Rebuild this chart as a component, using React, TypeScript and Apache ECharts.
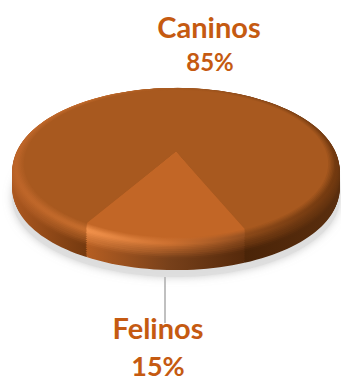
import React, { useEffect, useRef } from "react";
import * as echarts from "echarts";

const categories = ["Caninos", "Felinos"];
const shares = [85, 15];

const TEXT_COLOR = "#C55A11";
const FONT = "Lato, Carlito, sans-serif";

// Disc projection: a point on the unit disc is mapped with a simple perspective.
const CX = 176;
const CY = 152;
const AX = 161.6;
const AY = 77.2;
const K = 0.17;
const project = (u: number, v: number, z: number): number[] => {
  const w = 1 - K * v;
  return [CX + (AX * u) / w, CY + (AY * v) / w + z];
};

// First slice starts this many degrees to the right of the front of the disc.
const START_DEG = 23.1;
const FACE_R = 0.93;
const DEPTH = 26;
const BEVEL_H = 8;
// The slice borders run almost straight down the rim, so they pull in a little there.
const RIM_SHIFT_START = (-2 * Math.PI) / 180;
const RIM_SHIFT_END = (2.5 * Math.PI) / 180;

const GRAD_X0 = 12;
const GRAD_X1 = 341;

type Stop = [number, string];
const faceColors = ["#A8591F", "#C26626"];
const rimStops: Stop[][] = [
  [[12, "#BC6428"], [87, "#C46C2C"], [170, "#A85A20"], [245, "#8A4818"], [341, "#70380F"]],
  [[12, "#F0904A"], [87, "#F0904A"], [170, "#CC7030"], [245, "#955020"], [341, "#955020"]],
];
const wallStops: Stop[][] = [
  [[12, "#AC5820"], [87, "#74390F"], [245, "#4A2408"], [320, "#3A1B06"], [341, "#5A2E0E"]],
  [[12, "#B55E22"], [87, "#B55E22"], [170, "#77401A"], [245, "#55290B"], [341, "#55290B"]],
];

const toRgb = (hex: string) => [1, 3, 5].map((i) => parseInt(hex.slice(i, i + 2), 16));
const toHex = (c: number[]) => "#" + c.map((n) => Math.round(n).toString(16).padStart(2, "0")).join("");
const mixHex = (a: string, b: string, t: number) => {
  const ca = toRgb(a);
  const cb = toRgb(b);
  return toHex(ca.map((x, i) => x + (cb[i] - x) * t));
};

function sampleStops(stops: Stop[], x: number): string {
  for (let i = 1; i < stops.length; i++) {
    if (x <= stops[i][0]) {
      const t = (x - stops[i - 1][0]) / (stops[i][0] - stops[i - 1][0]);
      return mixHex(stops[i - 1][1], stops[i][1], t);
    }
  }
  return stops[stops.length - 1][1];
}

// One horizontal shading for a layer: face colour -> lit rim -> side wall.
const layerFill = (idx: number, toRim: number, toWall: number) => ({
  type: "linear",
  global: true,
  x: GRAD_X0,
  y: 0,
  x2: GRAD_X1,
  y2: 0,
  colorStops: rimStops[idx].map(([x, rim]) => {
    const wall = sampleStops(wallStops[idx], x);
    const c = toWall > 0 ? mixHex(rim, wall, toWall) : mixHex(faceColors[idx], rim, toRim);
    return { offset: (x - GRAD_X0) / (GRAD_X1 - GRAD_X0), color: c };
  }),
});

// Outline of a wedge at radius r, lowered by z, between two angles in radians.
const wedge = (a0: number, a1: number, r: number, z: number): number[][] => {
  const pts = [project(0, 0, z)];
  const n = Math.max(4, Math.ceil(Math.abs(a1 - a0) / (Math.PI / 90)));
  for (let i = 0; i <= n; i++) {
    const a = a0 + ((a1 - a0) * i) / n;
    pts.push(project(r * Math.sin(a), r * Math.cos(a), z));
  }
  return pts;
};

const total = shares.reduce((s, v) => s + v, 0);

const renderItem = (params: any, api: any) => {
  const idx = params.dataIndex;
  const before = shares.slice(0, idx).reduce((s, v) => s + v, 0);
  const a0 = ((START_DEG + (before / total) * 360) * Math.PI) / 180;
  const a1 = a0 + ((api.value(0) / total) * 360 * Math.PI) / 180;
  // Shifted borders: border 0 sits at the start of the first slice, border 1 at its end.
  const rimA0 = a0 + (idx === 0 ? RIM_SHIFT_START : RIM_SHIFT_END);
  const rimA1 = a1 + (idx === 0 ? RIM_SHIFT_END : RIM_SHIFT_START);
  const children: any[] = [];

  if (idx === 0) {
    // Soft contact shadow on the ground, under the whole disc.
    children.push({
      type: "polygon",
      shape: { points: wedge(0, Math.PI * 2, 1, DEPTH + 6).slice(1) },
      style: { fill: "rgba(222,222,222,0.9)", shadowBlur: 9, shadowColor: "rgba(185,185,185,0.8)" },
    });
  }

  // Side wall, lowest layer first.
  const WALL_STEPS = 10;
  for (let i = WALL_STEPS; i >= 0; i--) {
    const t = i / WALL_STEPS;
    const z = BEVEL_H + (DEPTH - BEVEL_H) * t;
    const r = t > 0.8 ? 1 - (t - 0.8) * 0.04 : 1;
    children.push({
      type: "polygon",
      shape: { points: wedge(rimA0, rimA1, r, z) },
      style: { fill: layerFill(idx, 1, 0.55 + 0.45 * Math.min(1, t * 3)) },
    });
  }

  // Rounded bevel between the wall and the flat face.
  const BEVEL_STEPS = 12;
  for (let i = BEVEL_STEPS; i >= 1; i--) {
    const t = i / BEVEL_STEPS;
    const phi = (t * Math.PI) / 2;
    const r = FACE_R + (1 - FACE_R) * Math.sin(phi);
    const dropped = 1 - Math.cos(phi);
    const z = dropped * dropped * BEVEL_H;
    const toRim = Math.min(1, t * 2.2);
    const toWall = t > 0.6 ? ((t - 0.6) / 0.4) * 0.55 : 0;
    const blend = Math.sin(phi);
    children.push({
      type: "polygon",
      shape: { points: wedge(a0 + (rimA0 - a0) * blend, a1 + (rimA1 - a1) * blend, r, z) },
      style: { fill: layerFill(idx, toRim, toWall) },
    });
  }

  // Flat top face.
  children.push({
    type: "polygon",
    shape: { points: wedge(a0, a1, FACE_R, 0) },
    style: { fill: faceColors[idx] },
  });

  return { type: "group", children };
};

const App = () => {
  const ref = useRef<HTMLDivElement>(null);
  useEffect(() => {
    const chart = echarts.init(ref.current!, undefined, { renderer: "svg" });
    chart.setOption({
      animation: false,
      backgroundColor: "#ffffff",
      series: [
        {
          type: "custom",
          coordinateSystem: "none",
          renderItem,
          data: shares.map((v, i) => ({ name: categories[i], value: [v] })),
          silent: true,
        },
      ],
      graphic: [
        {
          type: "line",
          shape: { x1: 165, y1: 277, x2: 165, y2: 323 },
          style: { stroke: "#ABABAB", lineWidth: 1.5 },
        },
        {
          type: "text", x: 209, y: 26,
          style: { text: categories[0], fill: TEXT_COLOR, font: `700 29px ${FONT}`, align: "center", verticalAlign: "middle" },
        },
        {
          type: "text", x: 210, y: 61,
          style: { text: `${shares[0]}%`, fill: TEXT_COLOR, font: `700 24px ${FONT}`, align: "center", verticalAlign: "middle" },
        },
        {
          type: "text", x: 158, y: 327,
          style: { text: categories[1], fill: TEXT_COLOR, font: `700 29px ${FONT}`, align: "center", verticalAlign: "middle" },
        },
        {
          type: "text", x: 158, y: 365,
          style: { text: `${shares[1]}%`, fill: TEXT_COLOR, font: `700 27px ${FONT}`, align: "center", verticalAlign: "middle" },
        },
      ],
    });
    return () => chart.dispose();
  }, []);
  return <div ref={ref} style={{ position: "absolute", left: 0, top: 0, width: 341, height: 380 }} />;
};

export default App;
